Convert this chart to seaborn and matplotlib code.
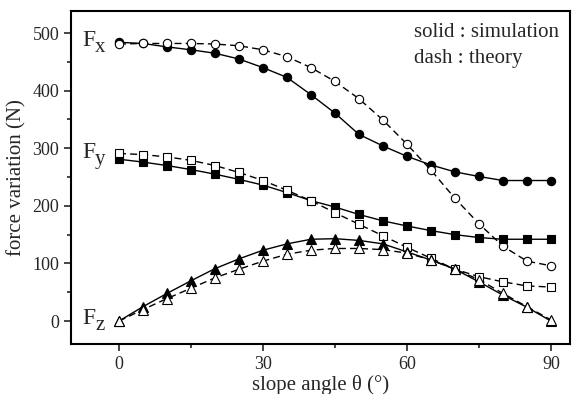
import matplotlib
matplotlib.use("Agg")
import matplotlib.pyplot as plt
from matplotlib.ticker import MultipleLocator
import seaborn as sns

# ── Data ──────────────────────────────────────────────────────────────────────
angle = [0, 5, 10, 15, 20, 25, 30, 35, 40, 45, 50, 55, 60, 65, 70, 75, 80, 85, 90]

fx_sim    = [484, 482, 476, 471, 465, 455, 440, 423, 393, 361, 324, 304, 286, 271, 259, 251, 244, 244, 244]
fx_theory = [481, 482, 482, 482, 481, 478, 471, 459, 440, 416, 386, 349, 307, 262, 213, 169, 130, 104, 96]
fy_sim    = [281, 276, 270, 263, 255, 246, 236, 223, 209, 198, 185, 174, 165, 157, 150, 145, 142, 142, 142]
fy_theory = [291, 289, 285, 279, 270, 258, 244, 227, 209, 188, 168, 148, 128, 109, 90, 77, 68, 61, 59]
fz_sim    = [0, 25, 48, 70, 91, 108, 123, 134, 142, 143, 140, 134, 120, 106, 90, 68, 45, 24, 0]
fz_theory = [0, 20, 39, 57, 75, 90, 104, 116, 123, 126, 126, 124, 118, 106, 90, 72, 48, 25, 2]

series = [
    ("o", fx_sim, fx_theory, 6.0),
    ("s", fy_sim, fy_theory, 5.5),
    ("^", fz_sim, fz_theory, 6.5),
]
force_labels = [("x", 487), ("y", 293), ("z", 5)]

# ── Style ─────────────────────────────────────────────────────────────────────
sns.set_style("ticks")
plt.rcParams["font.family"] = ["Liberation Serif", "DejaVu Serif"]

fig = plt.figure(figsize=(5.73, 3.94), dpi=100)
ax = fig.add_axes([0.124, 0.126, 0.871, 0.847])

for mk, sim, theo, ms in series:
    sns.lineplot(x=angle, y=sim, ax=ax, color="black", linewidth=1.0,
                 marker=mk, markersize=ms, markerfacecolor="black",
                 markeredgecolor="black", markeredgewidth=0.8)
    sns.lineplot(x=angle, y=theo, ax=ax, color="black", linewidth=1.0,
                 linestyle=(0, (5, 3)),
                 marker=mk, markersize=ms, markerfacecolor="white",
                 markeredgecolor="black", markeredgewidth=0.8)

# "F" with a lowered, slightly smaller component letter
for sub, yv in force_labels:
    ax.text(-5.0, yv, "F", fontsize=17, ha="right", va="center")
    ax.annotate(sub, xy=(-5.0, yv), xytext=(0, -5), textcoords="offset points",
                fontsize=15, ha="left", va="center")

ax.text(0.687, 0.933, "solid : simulation", transform=ax.transAxes,
        fontsize=15, ha="left", va="center")
ax.text(0.687, 0.858, "dash : theory", transform=ax.transAxes,
        fontsize=15, ha="left", va="center")

ax.set_xlim(-10, 94)
ax.set_ylim(-40.5, 539)
ax.xaxis.set_major_locator(MultipleLocator(30))
ax.xaxis.set_minor_locator(MultipleLocator(15))
ax.yaxis.set_major_locator(MultipleLocator(100))
ax.yaxis.set_minor_locator(MultipleLocator(50))
ax.tick_params(which="both", direction="out", width=1.2, labelsize=13,
               top=False, right=False)
ax.tick_params(which="major", length=5)
ax.tick_params(which="minor", length=3)
for sp in ax.spines.values():
    sp.set_visible(True)
    sp.set_linewidth(1.5)
    sp.set_color("black")

ax.set_xlabel("slope angle θ (°)", fontsize=15, labelpad=1)
ax.set_ylabel("force variation (N)", fontsize=15, labelpad=4)

fig.savefig("out.png", dpi=100)
